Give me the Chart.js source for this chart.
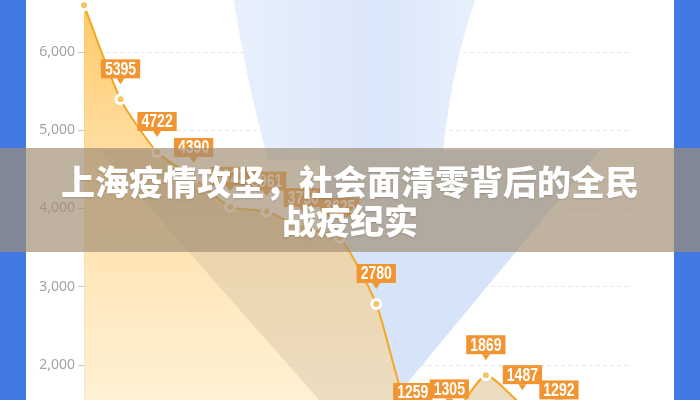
<!DOCTYPE html>
<html lang="zh-CN">
<head>
<meta charset="UTF-8">
<title>上海疫情攻坚，社会面清零背后的全民战疫纪实</title>
<script src="https://cdn.jsdelivr.net/npm/chart.js"></script>
<style>
    html, body { margin: 0; padding: 0; width: 700px; height: 400px; overflow: hidden; background: #fff; }
    .bokLevo { position: absolute; left: 0; top: 0; width: 26px; height: 400px; background: #4279e2; }
    .bokPravo { position: absolute; left: 674px; top: 0; width: 26px; height: 400px; background: #4279e2; }
    .konteyner { position: absolute; left: 26px; top: -60px; width: 647px; height: 620px; }
    .polosa {
        position: absolute; left: 0; top: 148px; width: 700px; height: 104px;
        background: rgba(160, 142, 115, 0.68);
        display: flex; align-items: center; justify-content: center; text-align: center;
        color: #fff; font-family: "Noto Sans CJK SC", sans-serif; font-weight: 900;
        font-size: 34px; line-height: 39px; text-shadow: 0 1px 2px rgba(0,0,0,0.15);
    }
</style>
</head>
<body>
<div class="bokLevo"></div>
<div class="bokPravo"></div>
<div class="konteyner"><canvas id="grafik"></canvas></div>
<div class="polosa"><div>上海疫情攻坚，社会面清零背后的全民<br>战疫纪实</div></div>
<script>
    // данные графика
    const dni = ['4月30日', '5月1日', '5月2日', '5月3日', '5月4日', '5月5日', '5月6日', '5月7日',
                 '5月8日', '5月9日', '5月10日', '5月11日', '5月12日', '5月13日', '5月14日', '5月15日'];
    const znacheniya = [6598, 5395, 4722, 4390, 4021, 3961, 3750, 3625, 2780, 1259, 1305, 1869, 1487, 1292, 1015, 950];
    const yTiki = [0, 1000, 2000, 3000, 4000, 5000, 6000, 7000];

    // смещение холста относительно страницы
    const sdvigX = 26, sdvigY = -60;

    // путь под линией (для обрезки)
    function putPodLiniey(ctx, meta, kraiY) {
        const pts = meta.data;
        ctx.beginPath();
        meta.dataset.path(ctx);
        ctx.lineTo(pts[pts.length - 1].x, kraiY);
        ctx.lineTo(pts[0].x, kraiY);
        ctx.closePath();
    }

    const fonPlugin = {
        id: 'fon',
        beforeDatasetsDraw(chart) {
            const ctx = chart.ctx;
            const meta = chart.getDatasetMeta(0);
            const px = (x) => x - sdvigX, py = (y) => y - sdvigY;
            ctx.save();
            // верхняя голубая фигура
            let g = ctx.createLinearGradient(px(232), 0, px(478), 0);
            g.addColorStop(0, 'rgba(232,240,252,1)');
            g.addColorStop(0.6, 'rgba(218,230,250,1)');
            g.addColorStop(1, 'rgba(232,240,252,1)');
            ctx.fillStyle = g;
            ctx.beginPath();
            ctx.moveTo(px(232), py(-10));
            ctx.quadraticCurveTo(px(246), py(80), px(268), py(160));
            ctx.lineTo(px(442), py(160));
            ctx.quadraticCurveTo(px(452), py(60), px(479), py(-10));
            ctx.closePath();
            ctx.fill();
            // нижний голубой треугольник, только над линией
            putPodLiniey(ctx, meta, 0);
            ctx.clip();
            ctx.fillStyle = 'rgba(214,228,250,1)';
            ctx.beginPath();
            ctx.moveTo(px(320), py(150));
            ctx.lineTo(px(600), py(150));
            ctx.lineTo(px(385), py(410));
            ctx.lineTo(px(320), py(410));
            ctx.closePath();
            ctx.fill();
            ctx.restore();
        },
        beforeDatasetDraw(chart, args) {
            // бежевая тень под линией
            const ctx = chart.ctx;
            const px = (x) => x - sdvigX, py = (y) => y - sdvigY;
            ctx.save();
            putPodLiniey(ctx, args.meta, chart.chartArea.bottom);
            ctx.clip();
            ctx.fillStyle = 'rgba(185,170,145,0.28)';
            ctx.beginPath();
            ctx.moveTo(px(99), py(150));
            ctx.lineTo(px(660), py(150));
            ctx.lineTo(px(660), py(560));
            ctx.lineTo(px(460), py(560));
            ctx.closePath();
            ctx.fill();
            ctx.restore();
        }
    };

    const metkiPlugin = {
        id: 'metki',
        afterDraw(chart) {
            const ctx = chart.ctx;
            const meta = chart.getDatasetMeta(0);
            ctx.save();
            ctx.font = 'bold 18px "Liberation Sans Narrow", "Liberation Sans", sans-serif';
            meta.data.forEach(function(p, i) {
                const t = String(znacheniya[i]);
                const w = ctx.measureText(t).width * 0.78 + 8;
                const h = 19;
                const niz = p.y - 21;
                ctx.fillStyle = '#f29531';
                ctx.fillRect(p.x - w / 2, niz - h, w, h);
                ctx.beginPath();
                ctx.moveTo(p.x - 4, niz);
                ctx.lineTo(p.x + 4, niz);
                ctx.lineTo(p.x, niz + 6);
                ctx.closePath();
                ctx.fill();
                ctx.save();
                ctx.translate(p.x, niz - h / 2 + 1);
                ctx.scale(0.78, 1);
                ctx.fillStyle = '#fff';
                ctx.textAlign = 'center';
                ctx.textBaseline = 'middle';
                ctx.fillText(t, 0, 0);
                ctx.restore();
            });
            ctx.restore();
        }
    };

    function zalivka(c) {
        const ctx = c.chart.ctx;
        const g = ctx.createLinearGradient(0, 0 - sdvigY, 0, 400 - sdvigY);
        g.addColorStop(0, 'rgba(255,196,88,0.92)');
        g.addColorStop(0.35, 'rgba(255,214,140,0.85)');
        g.addColorStop(1, 'rgba(255,236,198,0.75)');
        return g;
    }

    new Chart(document.getElementById('grafik'), {
        type: 'line',
        data: {
            labels: dni,
            datasets: [{
                data: znacheniya,
                borderColor: '#f5a623',
                borderWidth: 2,
                tension: 0.2,
                fill: 'start',
                backgroundColor: zalivka,
                pointRadius: 4.5,
                pointBorderWidth: 3,
                pointBorderColor: '#fff',
                pointBackgroundColor: '#f5c563'
            }]
        },
        options: {
            responsive: true,
            maintainAspectRatio: false,
            animation: false,
            layout: { padding: { top: 33.75, bottom: 38.5, left: 0, right: 41 } },
            plugins: { legend: { display: false }, tooltip: { enabled: false } },
            scales: {
                x: { display: false },
                y: {
                    min: 0,
                    max: 7000,
                    z: 1,
                    afterFit: function(s) { s.width = 58; },
                    afterBuildTicks: function(s) { s.ticks = yTiki.map(function(v) { return { value: v }; }); },
                    ticks: {
                        color: '#a3a3a3',
                        padding: 3,
                        font: { family: '"Noto Sans", sans-serif', size: 14 },
                        callback: function(v) { return v.toLocaleString('en-US'); }
                    },
                    grid: { color: '#e6e6e6', tickLength: 6, tickColor: '#c8c8c8', tickBorderDash: [] },
                    border: { display: true, color: '#dcdcdc', dash: [4, 3] }
                }
            }
        },
        plugins: [fonPlugin, metkiPlugin]
    });
</script>
</body>
</html>
